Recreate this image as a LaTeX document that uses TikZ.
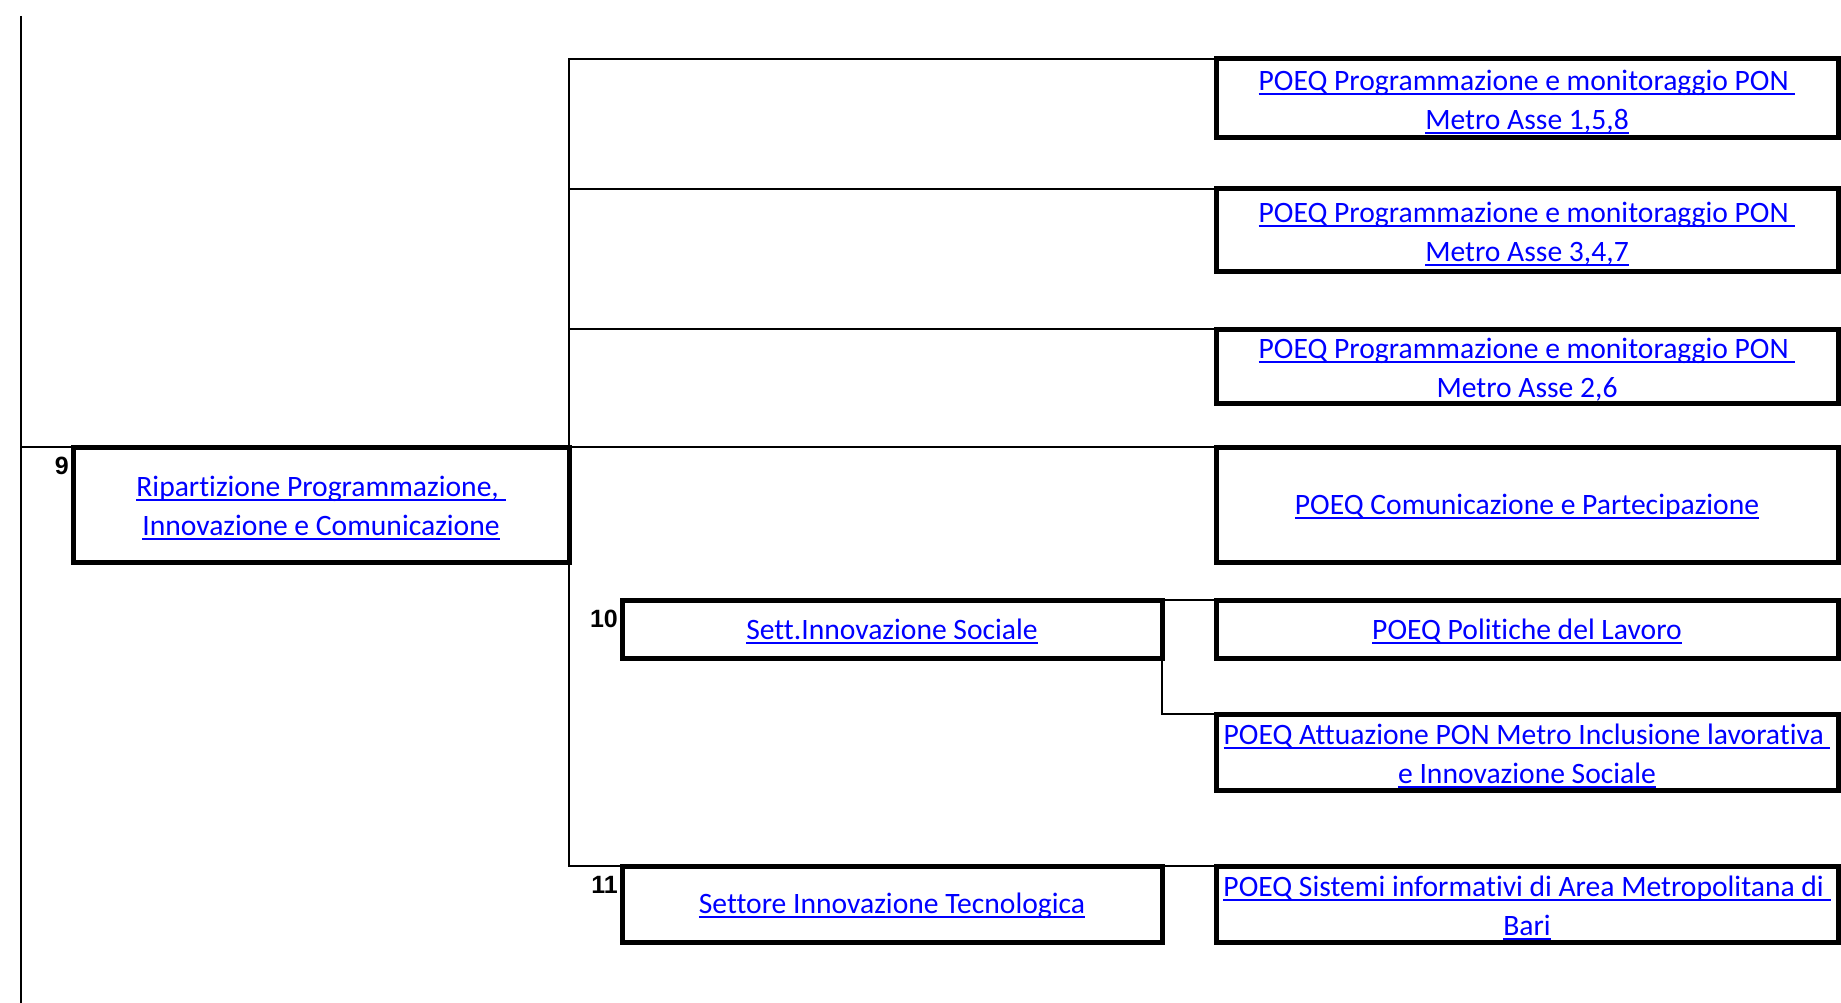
\documentclass[tikz,border=0pt]{standalone}
\usepackage{fontspec}
\setmainfont{Carlito}[Ligatures={NoCommon,NoContextual,NoRare},Contextuals=NoAlternate]
\newfontfamily\numfont{Liberation Sans}
\definecolor{linkblue}{RGB}{0,0,255}
\newcommand\ulnk[1]{\setbox0\hbox{#1}\rlap{\rule[-0.15em]{\wd0}{0.065em}}\box0}
\newcommand\fst{\rule{0pt}{28pt}}
\newcommand\fss{\rule{0pt}{25pt}}
\begin{document}
\begin{tikzpicture}[x=1pt,y=-1pt,
  box/.style={draw=black, line width=5pt, rectangle, outer sep=0pt, inner sep=0pt,
    align=center, text=linkblue, font=\fontsize{29.6}{39}\selectfont},
  conn/.style={draw=black, line width=2.2pt},
  num/.style={font=\numfont\bfseries\fontsize{25}{25}\selectfont, inner sep=0pt, anchor=north east, xshift=-4pt, yshift=-10pt}]
\fill[white] (0,0) rectangle (1841,1003);
\useasboundingbox (0,0) rectangle (1841,1003);

% boxes
\node[box, minimum width=496pt, minimum height=115pt] (b9) at (321,504.5)
  {\fst\ulnk{Ripartizione Programmazione,\ }\\\ulnk{Innovazione e Comunicazione}};
\node[box, minimum width=622pt, minimum height=79pt] (b1) at (1527,98.5)
  {\fst\ulnk{POEQ Programmazione e monitoraggio PON\ }\\\ulnk{Metro Asse 1,5,8}};
\node[box, minimum width=622pt, minimum height=82pt] (b2) at (1527,230)
  {\fst\ulnk{POEQ Programmazione e monitoraggio PON\ }\\\ulnk{Metro Asse 3,4,7}};
\node[box, minimum width=622pt, minimum height=74pt] (b3) at (1527,366)
  {\fst\ulnk{POEQ Programmazione e monitoraggio PON\ }\\Metro Asse 2,6};
\node[box, minimum width=622pt, minimum height=115pt] (b4) at (1527,504.5)
  {\fss\ulnk{POEQ Comunicazione e Partecipazione}};
\node[box, minimum width=622pt, minimum height=58pt] (b5) at (1527,629)
  {\fss\ulnk{POEQ Politiche del Lavoro}};
\node[box, minimum width=622pt, minimum height=76pt] (b6) at (1527,752)
  {\fst\ulnk{POEQ Attuazione PON Metro Inclusione lavorativa\ }\\\ulnk{e Innovazione Sociale}};
\node[box, minimum width=622pt, minimum height=76pt] (b7) at (1527,904)
  {\fst\ulnk{POEQ Sistemi informativi di Area Metropolitana di\ }\\\ulnk{Bari}};
\node[box, minimum width=540pt, minimum height=58pt] (b10) at (892,629)
  {\fss\ulnk{Sett.Innovazione Sociale}};
\node[box, minimum width=540pt, minimum height=76pt] (b11) at (892,904)
  {\fss\ulnk{Settore Innovazione Tecnologica}};

% numbers
\node[num] (n9) at (b9.north west) {9};
\node[num] (n10) at (b10.north west) {10};
\node[num] (n11) at (b11.north west) {11};

% connectors
\coordinate (ltop) at (21,16);
\coordinate (lbot) at (21,1003);
\draw[conn, line width=2.8pt] (ltop) -- (lbot);
\draw[conn] (ltop |- b9.north west) -- (b9.north west);
\draw[conn] (b9.north east) |- (b1.north west);
\draw[conn] (b9.north east) |- (b2.north west);
\draw[conn] (b9.north east) |- (b3.north west);
\draw[conn] (b9.north east) -- (b4.north west);
\draw[conn] (b9.north east) |- (b11.north west);
\draw[conn] (b10.north east) -- (b5.north west);
\draw[conn] (b10.north east) |- (b6.north west);
\draw[conn] (b11.north east) -- (b7.north west);
\end{tikzpicture}
\end{document}
